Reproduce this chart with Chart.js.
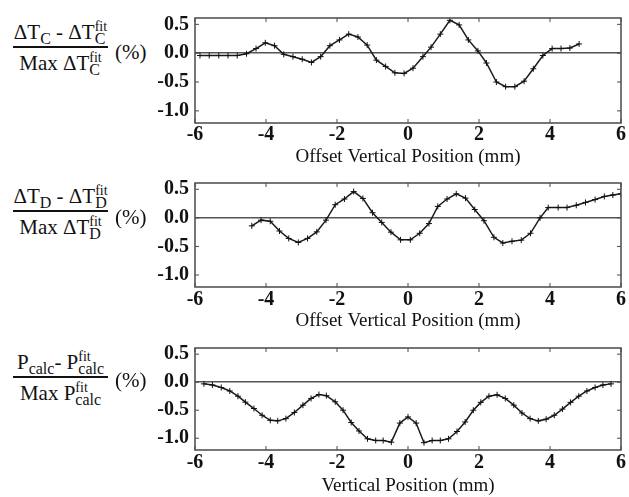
<!DOCTYPE html>
<html>
<head>
<meta charset="utf-8">
<script src="https://cdn.jsdelivr.net/npm/chart.js@4"></script>
<style>
  body { margin: 0; width: 629px; height: 497px; overflow: hidden; position: relative; background: #fff;
         font-family: "Liberation Serif", "Times New Roman", serif; color: #111; }
  canvas { position: absolute; left: 150px; }
  .lab { position: absolute; left: 13px; width: 95px; font-size: 21px; text-align: center; }
  .num { height: 27px; line-height: 27px; white-space: nowrap; }
  .bar { height: 2px; background: #111; }
  .den { height: 30px; line-height: 30px; white-space: nowrap; }
  .ss { display: inline-block; vertical-align: -5px; text-align: left; }
  .ss span { display: block; }
  .ss .f { font-size: 14px; line-height: 11px; }
  .ss .s { font-size: 16px; line-height: 14px; }
  .pct { position: absolute; left: 115px; font-size: 21px; line-height: 24px; }
</style>
</head>
<body>
<canvas id="c1" width="479" height="170" style="top:0px"></canvas>
<canvas id="c2" width="479" height="170" style="top:165px"></canvas>
<canvas id="c3" width="479" height="167" style="top:330px"></canvas>

<div class="lab" style="top:19px">
  <div class="num">&Delta;T<span class="ss"><span class="s">C</span></span> - &Delta;T<span class="ss"><span class="f">fit</span><span class="s">C</span></span></div>
  <div class="bar"></div>
  <div class="den">Max &Delta;T<span class="ss"><span class="f">fit</span><span class="s">C</span></span></div>
</div>
<div class="pct" style="top:40px">(%)</div>

<div class="lab" style="top:183px">
  <div class="num">&Delta;T<span class="ss"><span class="s">D</span></span> - &Delta;T<span class="ss"><span class="f">fit</span><span class="s">D</span></span></div>
  <div class="bar"></div>
  <div class="den">Max &Delta;T<span class="ss"><span class="f">fit</span><span class="s">D</span></span></div>
</div>
<div class="pct" style="top:205px">(%)</div>

<div class="lab" style="top:349px">
  <div class="num">P<span class="ss"><span class="s">calc</span></span>- P<span class="ss"><span class="f">fit</span><span class="s">calc</span></span></div>
  <div class="bar"></div>
  <div class="den">Max P<span class="ss"><span class="f">fit</span><span class="s">calc</span></span></div>
</div>
<div class="pct" style="top:368px">(%)</div>

<script>
// tick labels
const xTicks = [-6, -4, -2, 0, 2, 4, 6];
const yTicks = [0.5, 0.0, -0.5, -1.0];

// panel 1 : Delta T_C
const cX = [-5.86, -5.60, -5.33, -5.07, -4.81, -4.55, -4.28, -4.02, -3.76, -3.50, -3.24, -2.98, -2.72, -2.46,
  -2.20, -1.93, -1.67, -1.41, -1.15, -0.89, -0.63, -0.37, -0.11, 0.14, 0.42, 0.65, 0.91, 1.18, 1.44, 1.70,
  1.97, 2.21, 2.49, 2.75, 3.01, 3.27, 3.53, 3.80, 4.06, 4.31, 4.56, 4.82];
const cY = [-0.04, -0.04, -0.04, -0.04, -0.04, -0.01, 0.08, 0.18, 0.13, -0.02, -0.06, -0.105, -0.16, -0.06,
  0.13, 0.23, 0.33, 0.28, 0.14, -0.12, -0.23, -0.34, -0.35, -0.26, -0.06, 0.105, 0.33, 0.57, 0.49, 0.23,
  0.04, -0.17, -0.50, -0.58, -0.58, -0.485, -0.27, -0.04, 0.08, 0.08, 0.09, 0.16];

// panel 2 : Delta T_D
const dX = [-4.40, -4.14, -3.88, -3.62, -3.36, -3.09, -2.83, -2.57, -2.31, -2.05, -1.79, -1.53, -1.27, -1.00,
  -0.74, -0.48, -0.21, 0.065, 0.33, 0.59, 0.84, 1.10, 1.36, 1.62, 1.88, 2.14, 2.42, 2.67, 2.93, 3.19,
  3.45, 3.72, 3.95, 4.23, 4.48, 4.74, 5.00, 5.27, 5.53, 5.77, 6.00];
const dY = [-0.14, -0.04, -0.06, -0.23, -0.36, -0.43, -0.36, -0.245, -0.04, 0.23, 0.33, 0.46, 0.34, 0.09,
  -0.08, -0.25, -0.385, -0.385, -0.27, -0.10, 0.20, 0.33, 0.42, 0.345, 0.146, -0.05, -0.34, -0.44, -0.41, -0.39,
  -0.27, 0.0, 0.18, 0.18, 0.18, 0.22, 0.27, 0.32, 0.375, 0.40, 0.42];

// panel 3 : P_calc
const pX = [-5.75, -5.51, -5.26, -5.02, -4.79, -4.58, -4.34, -4.11, -3.88, -3.67, -3.44, -3.20, -2.96, -2.73,
  -2.51, -2.30, -2.05, -1.83, -1.60, -1.38, -1.14, -0.91, -0.70, -0.47, -0.23, 0.0, 0.23, 0.45, 0.68, 0.91,
  1.14, 1.38, 1.61, 1.84, 2.05, 2.28, 2.51, 2.74, 2.98, 3.21, 3.44, 3.67, 3.89, 4.12, 4.35, 4.58,
  4.81, 5.04, 5.27, 5.49, 5.72];
const pY = [-0.03, -0.05, -0.095, -0.157, -0.25, -0.356, -0.47, -0.59, -0.68, -0.69, -0.65, -0.54, -0.41, -0.29,
  -0.22, -0.24, -0.35, -0.50, -0.72, -0.87, -1.01, -1.04, -1.04, -1.07, -0.73, -0.62, -0.73, -1.08, -1.04, -1.04,
  -1.01, -0.88, -0.71, -0.50, -0.36, -0.25, -0.225, -0.29, -0.41, -0.55, -0.65, -0.69, -0.66, -0.59, -0.48, -0.36,
  -0.25, -0.157, -0.094, -0.05, -0.03];

const serif = "'Liberation Serif', 'Times New Roman', serif";

// box round the plot and little inner ticks
const frame = {
  id: 'frame',
  afterDatasetsDraw(chart) {
    const { ctx, chartArea: a, scales: { x, y } } = chart;
    ctx.save();
    ctx.strokeStyle = '#4a4a4a';
    ctx.lineWidth = 1.5;
    ctx.strokeRect(a.left, a.top, a.width, a.height);
    ctx.lineWidth = 1;
    ctx.beginPath();
    x.ticks.forEach(t => {
      const px = x.getPixelForValue(t.value);
      ctx.moveTo(px, a.top); ctx.lineTo(px, a.top + 4);
      ctx.moveTo(px, a.bottom); ctx.lineTo(px, a.bottom - 4);
    });
    y.ticks.forEach(t => {
      const py = y.getPixelForValue(t.value);
      ctx.moveTo(a.left, py); ctx.lineTo(a.left + 4, py);
      ctx.moveTo(a.right, py); ctx.lineTo(a.right - 4, py);
    });
    ctx.stroke();
    ctx.restore();
  }
};

function makePanel(id, xs, ys, title, padTop, axisH, tickPad, titlePad) {
  new Chart(document.getElementById(id), {
    type: 'line',
    data: {
      datasets: [{
        data: xs.map((v, i) => ({ x: v, y: ys[i] })),
        borderColor: '#1a1a1a',
        borderWidth: 1.5,
        pointStyle: 'cross',
        pointRadius: 3,
        pointBorderWidth: 1,
        pointBorderColor: '#111',
        tension: 0
      }]
    },
    options: {
      responsive: false,
      animation: false,
      layout: { padding: { top: padTop, right: 8, left: 0, bottom: 0 } },
      plugins: { legend: { display: false }, tooltip: { enabled: false } },
      scales: {
        x: {
          type: 'linear', min: -6, max: 6,
          afterBuildTicks: s => { s.ticks = xTicks.map(v => ({ value: v })); },
          afterFit: s => { s.height = axisH; },
          grid: { display: false, drawTicks: false },
          border: { display: false },
          ticks: { color: '#111', padding: tickPad, maxRotation: 0, font: { family: serif, size: 20, weight: 'bold' },
                   callback: v => String(v) },
          title: { display: true, text: title, color: '#111', padding: { top: 0, bottom: titlePad },
                   font: { family: serif, size: 19 } }
        },
        y: {
          min: -1.21, max: 0.61,
          afterBuildTicks: s => { s.ticks = yTicks.map(v => ({ value: v })); },
          afterFit: s => { s.width = 45; },
          grid: { drawTicks: false, lineWidth: 1.5,
                  color: c => (c.tick && c.tick.value === 0) ? '#555' : 'rgba(0,0,0,0)' },
          border: { display: false },
          ticks: { color: '#111', padding: 6, font: { family: serif, size: 20, weight: 'bold' },
                   callback: v => v.toFixed(1) }
        }
      }
    },
    plugins: [frame]
  });
}

makePanel('c1', cX, cY, 'Offset Vertical Position (mm)', 8, 47, 0, 2);
makePanel('c2', dX, dY, 'Offset Vertical Position (mm)', 8, 48, 1, 3);
makePanel('c3', pX, pY, 'Vertical Position (mm)', 5, 47, 1, 0);
</script>
</body>
</html>
